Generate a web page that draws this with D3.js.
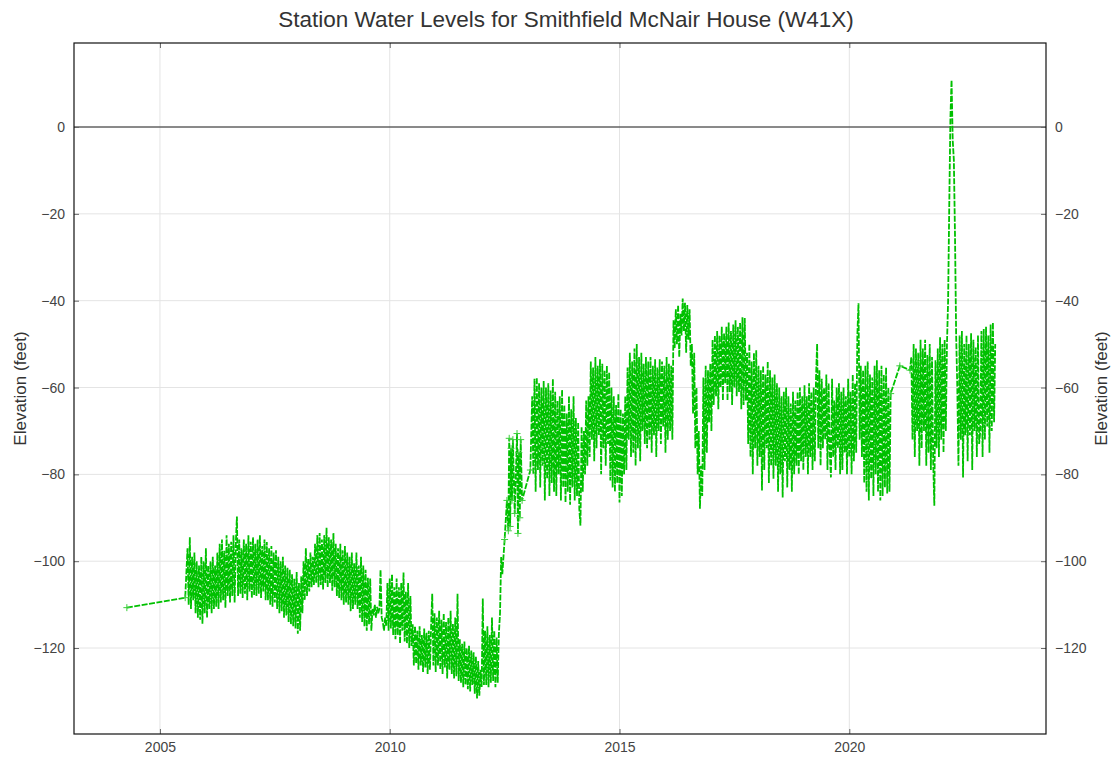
<!DOCTYPE html>
<html>
<head>
<meta charset="utf-8">
<script src="https://cdn.jsdelivr.net/npm/d3@7"></script>
<style>
  body { margin: 0; background: #fff; }
  text { font-family: "Liberation Sans", Arial, sans-serif; }
</style>
</head>
<body>
<div id="chart"></div>
<script>
// chart title / axis labels
var chartTitle = "Station Water Levels for Smithfield McNair House (W41X)";
var yLabel = "Elevation (feet)";
var xTicks = [2005, 2010, 2015, 2020];
var yTicks = [0, -20, -40, -60, -80, -100, -120];

// sparse readings: [decimal year, elevation in feet]
var early = [[2004.28, -110.7], [2005.55, -108.4]];
var recovery2012 = [
  [2012.50, -95], [2012.55, -86], [2012.58, -93], [2012.60, -71.7], [2012.62, -92], [2012.64, -74],
  [2012.66, -86], [2012.68, -72], [2012.72, -89], [2012.77, -70.6], [2012.79, -93.6], [2012.81, -75],
  [2012.83, -90], [2012.85, -72], [2012.88, -86], [2013.06, -79]
];
var gap2021 = [[2020.90, -61.4], [2021.10, -55], [2021.32, -56]];

// continuous logger readings, one every sampleStep years from the start year
var sampleStep = 0.025;

var start2005 = 2005.60;
var reach2005 = [
  -97, -110, -94.5, -111, -99, -109, -98, -112, -100, -113,
  -101, -113.5, -99, -114.4, -100, -112, -97, -113, -101, -111,
  -100, -112, -99, -111, -101, -110.5, -98, -111, -96, -109.5,
  -95, -109, -97.6, -110.7, -94, -108, -96, -109.5, -95.5, -108,
  -94, -109.5, -96, -89.7, -108, -95, -107.5, -97, -108.5, -95,
  -107.5, -96, -109, -94, -107, -95.5, -108.5, -94.5, -107.8, -96,
  -108, -95, -107.5, -94, -108.5, -96.5, -107, -95, -109, -95.6,
  -109, -97, -110, -96.5, -110.5, -98, -109.5, -97.5, -111, -99,
  -112, -100, -111.5, -99, -113, -101, -112.5, -101.5, -114, -102,
  -114.5, -103, -115, -104, -115.5, -102.5, -116.7, -105, -116, -103.5,
  -112, -100, -109, -97, -108, -99.5, -107, -98, -106, -99,
  -105.5, -96, -105, -94, -106, -93.5, -105.5, -95, -106.5, -94,
  -105, -92.3, -106, -94.5, -105, -95, -106.8, -93.5, -106, -96,
  -108, -97, -108.5, -96, -109, -97.5, -110, -96.5, -109.5, -98,
  -110, -99, -111.5, -98, -111, -100.5, -110, -98, -111, -101,
  -113, -99, -114, -101, -115, -102, -116, -103.8, -114.5, -104,
  -116, -111, -112.5, -110, -113, -110.5, -112, -111, -102, -113,
  -114, -116, -113, -115, -105, -116, -104, -115.5, -103, -117,
  -106, -118, -104, -117, -106, -119, -105, -116, -102.6, -118.5,
  -107, -119, -105, -120, -108, -119.5, -114.5, -124, -115, -123.6,
  -116, -125, -115, -124, -117, -125.5, -115.5, -124.5, -116.5, -126,
  -116, -125, -115, -107.5, -124, -112, -125.5, -113, -124, -111.4,
  -125, -113.5, -126, -112, -124.5, -114, -127, -113, -125, -111.4,
  -126, -114.4, -127, -113, -126.5, -107.5, -127.6, -118, -128, -119,
  -129, -118.5, -128.5, -120, -129.5, -119.5, -130, -120.6, -128.5, -121,
  -130.5, -122, -131.6, -123, -131, -125, -129, -108.6, -128.5, -116,
  -128.5, -115, -129, -117, -128, -113, -127.6, -116, -129, -117.6,
  -128, -116.7, -112, -99, -103
];

var start2013 = 2013.10;
var reach2013 = [
  -62, -80, -58, -84, -57.7, -79, -59, -83, -60, -78,
  -58.5, -86, -60, -81, -59, -85, -60.7, -82, -58, -84,
  -61, -85, -63, -80, -62, -86, -60.5, -83, -64, -86.5,
  -66, -84, -62, -87, -65, -83, -62, -86, -67, -85,
  -68, -88, -91.8, -69, -84, -70, -80, -63, -78, -62,
  -76, -54, -72, -55.4, -77, -53, -74, -55, -71, -53.5,
  -80, -54.5, -74, -56, -78, -55, -73, -56.5, -81.4, -60,
  -83, -62, -84, -64, -82, -61.4, -86.5, -65, -85, -66,
  -80, -62, -79, -55.4, -72, -52, -76, -54, -75, -51,
  -78, -50, -74, -53, -77, -52, -70, -54.5, -73, -53,
  -74, -54, -72, -53, -75, -55, -71, -53.5, -76, -55.4,
  -70, -53.5, -73, -54, -69, -55, -75, -53, -72, -54.5,
  -70, -55, -72, -44.5, -51, -42, -50, -41, -53, -43,
  -48, -39.5, -47, -40.5, -52, -41, -49, -42, -55, -50,
  -66, -52, -74, -60, -80, -70, -87.9, -78, -85, -57.7,
  -79, -55, -75, -56, -68, -54.5, -70, -49, -64, -48,
  -62, -47, -65, -48, -60, -46, -63, -47.5, -59, -46,
  -63, -45, -61, -47, -64, -45.5, -60, -44.5, -62, -46,
  -61, -45, -65, -43.8, -64, -44, -63, -52, -73, -50,
  -76, -54, -80, -52, -74, -51.4, -78, -55, -76, -56,
  -83.7, -55, -79, -57, -74, -54, -82, -56, -78, -57.7,
  -81, -57, -78, -59, -84, -60, -80, -62, -85.3, -61,
  -77, -60, -83, -62, -79, -63.7, -84, -61, -80, -63,
  -78, -61, -80, -60, -77, -62, -79, -59.5, -76, -62,
  -80, -59, -76, -61, -79, -60, -77, -58, -49.9, -74,
  -56, -78, -58, -74, -60, -72, -57, -79, -59, -75,
  -80.7, -58, -76, -63, -79, -60, -74, -59, -80, -61,
  -79, -60, -75, -62, -80, -58, -76, -61, -80, -57,
  -77, -59, -75, -48, -40.6, -72, -55, -76, -56, -82,
  -55, -84, -54, -86, -57, -81, -57.7, -85, -55, -80,
  -53.7, -84, -56, -86, -55, -85, -57, -83, -55.4, -84.4,
  -60, -84
];

var start2021 = 2021.35;
var reach2021 = [
  -53, -72, -50, -76, -51, -70, -52, -78, -49, -74,
  -51, -70, -49, -78, -52.5, -75, -50, -79, -53, -77,
  -87.2, -53.7, -74, -51, -76, -48.4, -72, -50, -75, -49,
  -70, -50, -40, -18, 2, 10.8, -3, -7.6, -25, -48,
  -60, -78, -48, -72, -47, -80.7, -50, -71, -48, -77,
  -50, -71, -47.5, -79, -49, -70, -50.7, -76, -48, -73,
  -70, -47, -76, -46.5, -72, -46, -69, -48, -75, -45.5,
  -70, -45, -68, -50
];

function dated(start, values) {
  return values.map(function(v, i) { return [start + i * sampleStep, v]; });
}

var levels = [].concat(
  early,
  dated(start2005, reach2005),
  recovery2012,
  dated(start2013, reach2013),
  gap2021,
  dated(start2021, reach2021)
);
var sparse = [].concat(early, recovery2012, gap2021);

var width = 1114, height = 759;
var margin = {top: 43, right: 68, bottom: 25, left: 74};
var w = width - margin.left - margin.right;
var h = height - margin.top - margin.bottom;

var svg = d3.select("#chart").append("svg")
  .attr("width", width)
  .attr("height", height);

var x = d3.scaleLinear().domain([2003.13, 2024.28]).range([0, w]);
var y = d3.scaleLinear().domain([-139.8, 19.35]).range([h, 0]);

svg.append("text")
  .attr("x", 566)
  .attr("y", 27)
  .attr("text-anchor", "middle")
  .style("font-size", "22.5px")
  .style("fill", "#333")
  .text(chartTitle);

var g = svg.append("g")
  .attr("transform", "translate(" + margin.left + "," + margin.top + ")");

// grid
g.selectAll(".vgrid").data(xTicks).enter().append("line")
  .attr("x1", function(d) { return x(d); })
  .attr("x2", function(d) { return x(d); })
  .attr("y1", 0).attr("y2", h)
  .style("stroke", "#e4e4e4");

g.selectAll(".hgrid").data(yTicks).enter().append("line")
  .attr("x1", 0).attr("x2", w)
  .attr("y1", function(d) { return y(d); })
  .attr("y2", function(d) { return y(d); })
  .style("stroke", "#e4e4e4");

// zero line
g.append("line")
  .attr("x1", 0).attr("x2", w)
  .attr("y1", y(0)).attr("y2", y(0))
  .style("stroke", "#222")
  .style("stroke-width", 1.2);

// axes (ticks point inward)
var fmt = function(d) { return d < 0 ? "\u2212" + Math.abs(d) : d; };

var xAxis = g.append("g")
  .attr("transform", "translate(0," + h + ")")
  .call(d3.axisBottom(x).tickValues(xTicks).tickFormat(d3.format("d")).tickSize(-5).tickPadding(8));
var xTop = g.append("g")
  .call(d3.axisTop(x).tickValues(xTicks).tickFormat("").tickSize(-5));
var yLeft = g.append("g")
  .call(d3.axisLeft(y).tickValues(yTicks).tickFormat(fmt).tickSize(-5).tickPadding(9));
var yRight = g.append("g")
  .attr("transform", "translate(" + w + ",0)")
  .call(d3.axisRight(y).tickValues(yTicks).tickFormat(fmt).tickSize(-5).tickPadding(9));

[xAxis, xTop, yLeft, yRight].forEach(function(a) {
  a.select(".domain").remove();
  a.selectAll(".tick line").style("stroke", "#666");
  a.selectAll(".tick text")
    .style("font-size", "14px")
    .style("fill", "#444")
    .style("font-family", "'Liberation Sans', Arial, sans-serif");
});

// frame
g.append("rect")
  .attr("width", w).attr("height", h)
  .style("fill", "none")
  .style("stroke", "#111")
  .style("stroke-width", 1.2);

// y labels, both sides read bottom-to-top
svg.append("text")
  .attr("transform", "translate(26," + (margin.top + h / 2) + ") rotate(-90)")
  .attr("text-anchor", "middle")
  .style("font-size", "17px")
  .style("fill", "#333")
  .text(yLabel);

svg.append("text")
  .attr("transform", "translate(1107," + (margin.top + h / 2) + ") rotate(-90)")
  .attr("text-anchor", "middle")
  .style("font-size", "17px")
  .style("fill", "#333")
  .text(yLabel);

// water level series
var line = d3.line()
  .x(function(d) { return x(d[0]); })
  .y(function(d) { return y(d[1]); });

var plot = g.append("g");

plot.append("path")
  .datum(levels)
  .attr("d", line)
  .style("fill", "none")
  .style("stroke", "#00c000")
  .style("stroke-width", 1.8)
  .style("stroke-dasharray", "6,1.5");

// "+" markers show only where readings are far apart
plot.selectAll(".mark").data(sparse).enter().append("path")
  .attr("class", "mark")
  .attr("transform", function(d) { return "translate(" + x(d[0]) + "," + y(d[1]) + ")"; })
  .attr("d", "M-3.5,0H3.5M0,-3.5V3.5")
  .style("stroke", "#3ccf3c")
  .style("stroke-width", 1);
</script>
</body>
</html>
